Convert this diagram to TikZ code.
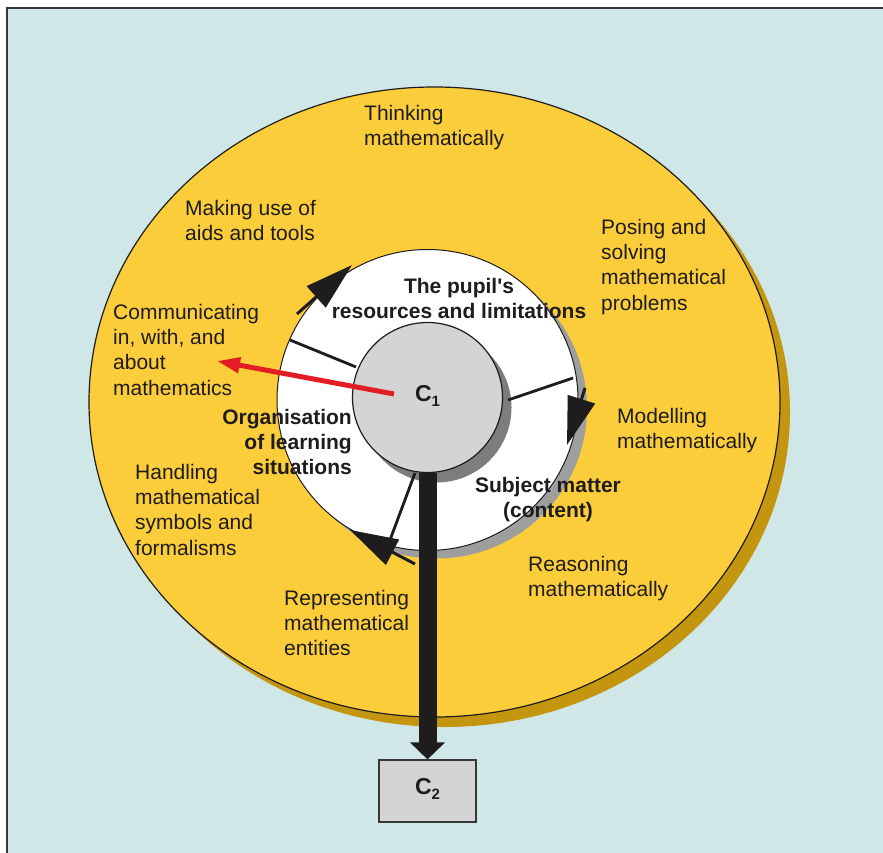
\documentclass[tikz,border=0pt]{standalone}
\usepackage{fontspec}
\setmainfont{Liberation Sans}[Ligatures=TeXOff]
\usetikzlibrary{arrows.meta,shapes.geometric,shadows}

\definecolor{bgcyan}{RGB}{207,231,231}
\definecolor{gold}{RGB}{252,205,58}
\definecolor{goldshade}{RGB}{196,150,16}
\definecolor{ringshade}{RGB}{158,158,158}
\definecolor{coreshade}{RGB}{125,125,125}
\definecolor{coregray}{RGB}{211,212,212}
\definecolor{ink}{RGB}{30,28,28}
\definecolor{redarrow}{RGB}{226,30,36}
\definecolor{framegray}{RGB}{55,55,55}

\tikzset{
  lbl/.style={font=\fontsize{21}{25.2}\selectfont, text=ink, inner sep=0pt, align=left, anchor=north west},
  blbl/.style={font=\bfseries\fontsize{21}{25}\selectfont, text=ink, inner sep=0pt},
  clabel/.style={font=\bfseries\fontsize{23}{23}\selectfont, text=ink},
  divider/.style={draw=ink, line width=2.8pt},
  cyclearrow/.style={draw=ink, line width=3pt, -{Triangle[length=48pt,width=28pt]}},
}
\newcommand{\csub}[1]{\raisebox{-5pt}{\fontsize{15}{15}\selectfont #1}}

\begin{document}
\begin{tikzpicture}[x=1pt,y=-1pt]
\useasboundingbox (0,0) rectangle (883,853);
\fill[white] (0,0) rectangle (883,853);
\fill[bgcyan] (7,8) rectangle (883,853);
\draw[framegray, line width=2pt] (7,860) -- (7,8) -- (890,8);

% competency ellipse
\node[ellipse, minimum width=691pt, minimum height=630pt, fill=gold, draw=ink, line width=1.2pt, inner sep=0pt,
  drop shadow={shadow xshift=10pt, shadow yshift=-10pt, fill=goldshade, opacity=1}] (compet) at (434.5,402) {};

% ring of the three factors
\node[circle, minimum size=301pt, fill=white, draw=ink, line width=1pt, inner sep=0pt,
  drop shadow={shadow xshift=9pt, shadow yshift=-8pt, fill=ringshade, opacity=1}] (ring) at (427.5,400) {};

% core
\node[circle, minimum size=150pt, fill=coregray, draw=ink, line width=1.2pt, inner sep=0pt,
  drop shadow={shadow xshift=9pt, shadow yshift=-10pt, fill=coreshade, opacity=1}] (core) at (427.5,397.5) {};

% outcome box
\node[rectangle, minimum width=97pt, minimum height=62pt, fill=coregray, draw=framegray, line width=1.2pt, inner sep=0pt] (out) at (427.5,791) {};

% dividers of the ring
\coordinate (dlA) at (356,367); \coordinate (dlB) at (290,340);
\coordinate (drA) at (508,400); \coordinate (drB) at (573,378);
\coordinate (dbA) at (415,473); \coordinate (dbB) at (390,540);
\draw[divider] (dlA) -- (dlB);
\draw[divider] (drA) -- (drB);
\draw[divider] (dbA) -- (dbB);

% cycle arrows on the ring
\coordinate (caS) at (297,314); \coordinate (caT) at (352,265);
\coordinate (cbS) at (585,388); \coordinate (cbT) at (567,445);
\coordinate (ccS) at (415,564); \coordinate (ccT) at (350,530);
\draw[cyclearrow] (caS) -- (caT);
\draw[cyclearrow] (cbS) -- (cbT);
\draw[cyclearrow] (ccS) -- (ccT);

% red arrow
\coordinate (rS) at (394,394); \coordinate (rT) at (217,361);
\draw[redarrow, line width=5pt, -{Triangle[length=23pt,width=15pt]}] (rS) -- (rT);

% main arrow
\draw[ink, line width=18pt, -{Triangle[length=17pt,width=34pt]}] (core.south) -- (out.north);

% core and outcome labels
\node[clabel] (coreT) at (427.5,396) {C\csub{1}};
\node[clabel] (outT) at (427.5,789) {C\csub{2}};

% competency labels
\node[lbl] (think) at (364,105) {Thinking\\mathematically};
\node[lbl] (aids) at (185,200) {Making use of\\aids and tools};
\node[lbl] (pose) at (601,219) {Posing and\\solving\\mathematical\\problems};
\node[lbl] (comm) at (113,304) {Communicating\\in, with, and\\about\\mathematics};
\node[lbl] (model) at (617,408) {Modelling\\mathematically};
\node[lbl] (symb) at (135,464) {Handling\\mathematical\\symbols and\\formalisms};
\node[lbl] (reas) at (528,556) {Reasoning\\mathematically};
\node[lbl] (repr) at (284,590) {Representing\\mathematical\\entities};

% factor labels
\node[blbl, align=center, anchor=north] (pupil) at (459,278) {The pupil's\\resources and limitations};
\node[blbl, align=right, anchor=north east] (organ) at (352,409) {Organisation\\of learning\\situations};
\node[blbl, align=center, anchor=north] (subj) at (548,477) {Subject matter\\(content)};
\end{tikzpicture}
\end{document}
